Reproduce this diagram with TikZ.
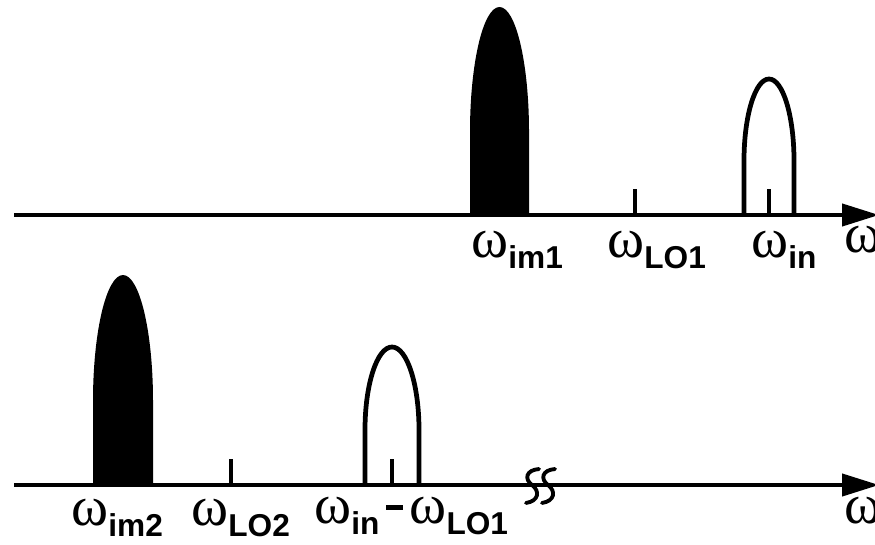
\documentclass[tikz,border=0pt]{standalone}
\usepackage{fontspec}
\setmainfont{Liberation Sans}
\newfontfamily\greekfont{Liberation Serif}
\usetikzlibrary{arrows.meta}

% omega with a bold subscript, as on the plots
\newcommand{\wlab}[1]{{\greekfont\fontsize{32}{34}\selectfont ω}\raisebox{-6.8pt}{\fontsize{18}{20}\selectfont\bfseries #1}}
\newcommand{\wonly}{{\greekfont\fontsize{32}{34}\selectfont ω}}

% a band: style, left x, right x, top y, axis y
\newcommand{\lobe}[5]{%
  \pgfmathsetmacro{\ys}{#5-0.4*(#5-#4)}
  \pgfmathsetmacro{\ky}{0.33*(#5-#4)}
  \pgfmathsetmacro{\xc}{(#2+#3)/2}
  \pgfmathsetmacro{\kx}{0.276*(#3-#2)}
  \path[#1] (#2,#5) -- (#2,\ys)
    .. controls (#2,{\ys-\ky}) and ({\xc-\kx},#4) .. (\xc,#4)
    .. controls ({\xc+\kx},#4) and (#3,{\ys-\ky}) .. (#3,\ys) -- (#3,#5);
}

\tikzset{
  axis/.style={line width=2.3pt, -{Triangle[length=21pt,width=12.5pt]}},
  tick/.style={line width=2.2pt},
  band/.style={draw, line width=2.7pt},
  lab/.style={anchor=base west, inner sep=0pt},
}

\begin{document}
\begin{tikzpicture}[x=0.02cm, y=-0.02cm]
  \useasboundingbox (0,0) rectangle (875,544);

  % first mixer: image, LO and input
  \lobe{fill=black}{470}{529}{7}{215}
  \lobe{band}{744}{794}{79}{215}
  \draw[tick] (635,215) -- (635,189);
  \draw[tick] (769,215) -- (769,189);
  \draw[axis] (14,215) -- (879,215);

  \node[lab] (im1) at (471,257) {\wlab{im1}};
  \node[lab] (lo1) at (607,257) {\wlab{LO1}};
  \node[lab] (in1) at (751,257) {\wlab{in}};
  \node[lab] (w1) at (844,252) {\wonly};

  % second mixer, after the first down-conversion
  \lobe{fill=black}{93}{153}{275}{485}
  \lobe{band}{365}{419}{347}{485}
  \draw[tick] (231,485) -- (231,459);
  \draw[tick] (392,485) -- (392,459);
  \draw[axis] (14,485) -- (879,485);
  \foreach \x in
    {
        525, 541
    }
    {
        \draw[line width=2.2pt, line cap=round]
        (\x+14,469) .. controls (\x+1,470) and (\x-1,479) .. (\x+7,485)
        .. controls (\x+15,491) and (\x+14,501) .. (\x+1,503);
    }

  \node[lab] (im2) at (71,525) {\wlab{im2}};
  \node[lab] (lo2) at (191,525) {\wlab{LO2}};
  \node[lab] (if2) at (314,523)
    {\wlab{in}\hspace{4pt}\rule[7.4pt]{9.6pt}{2.8pt}\hspace{3.5pt}\wlab{LO1}};
  \node[lab] (w2) at (844,523) {\wonly};

\end{tikzpicture}
\end{document}
